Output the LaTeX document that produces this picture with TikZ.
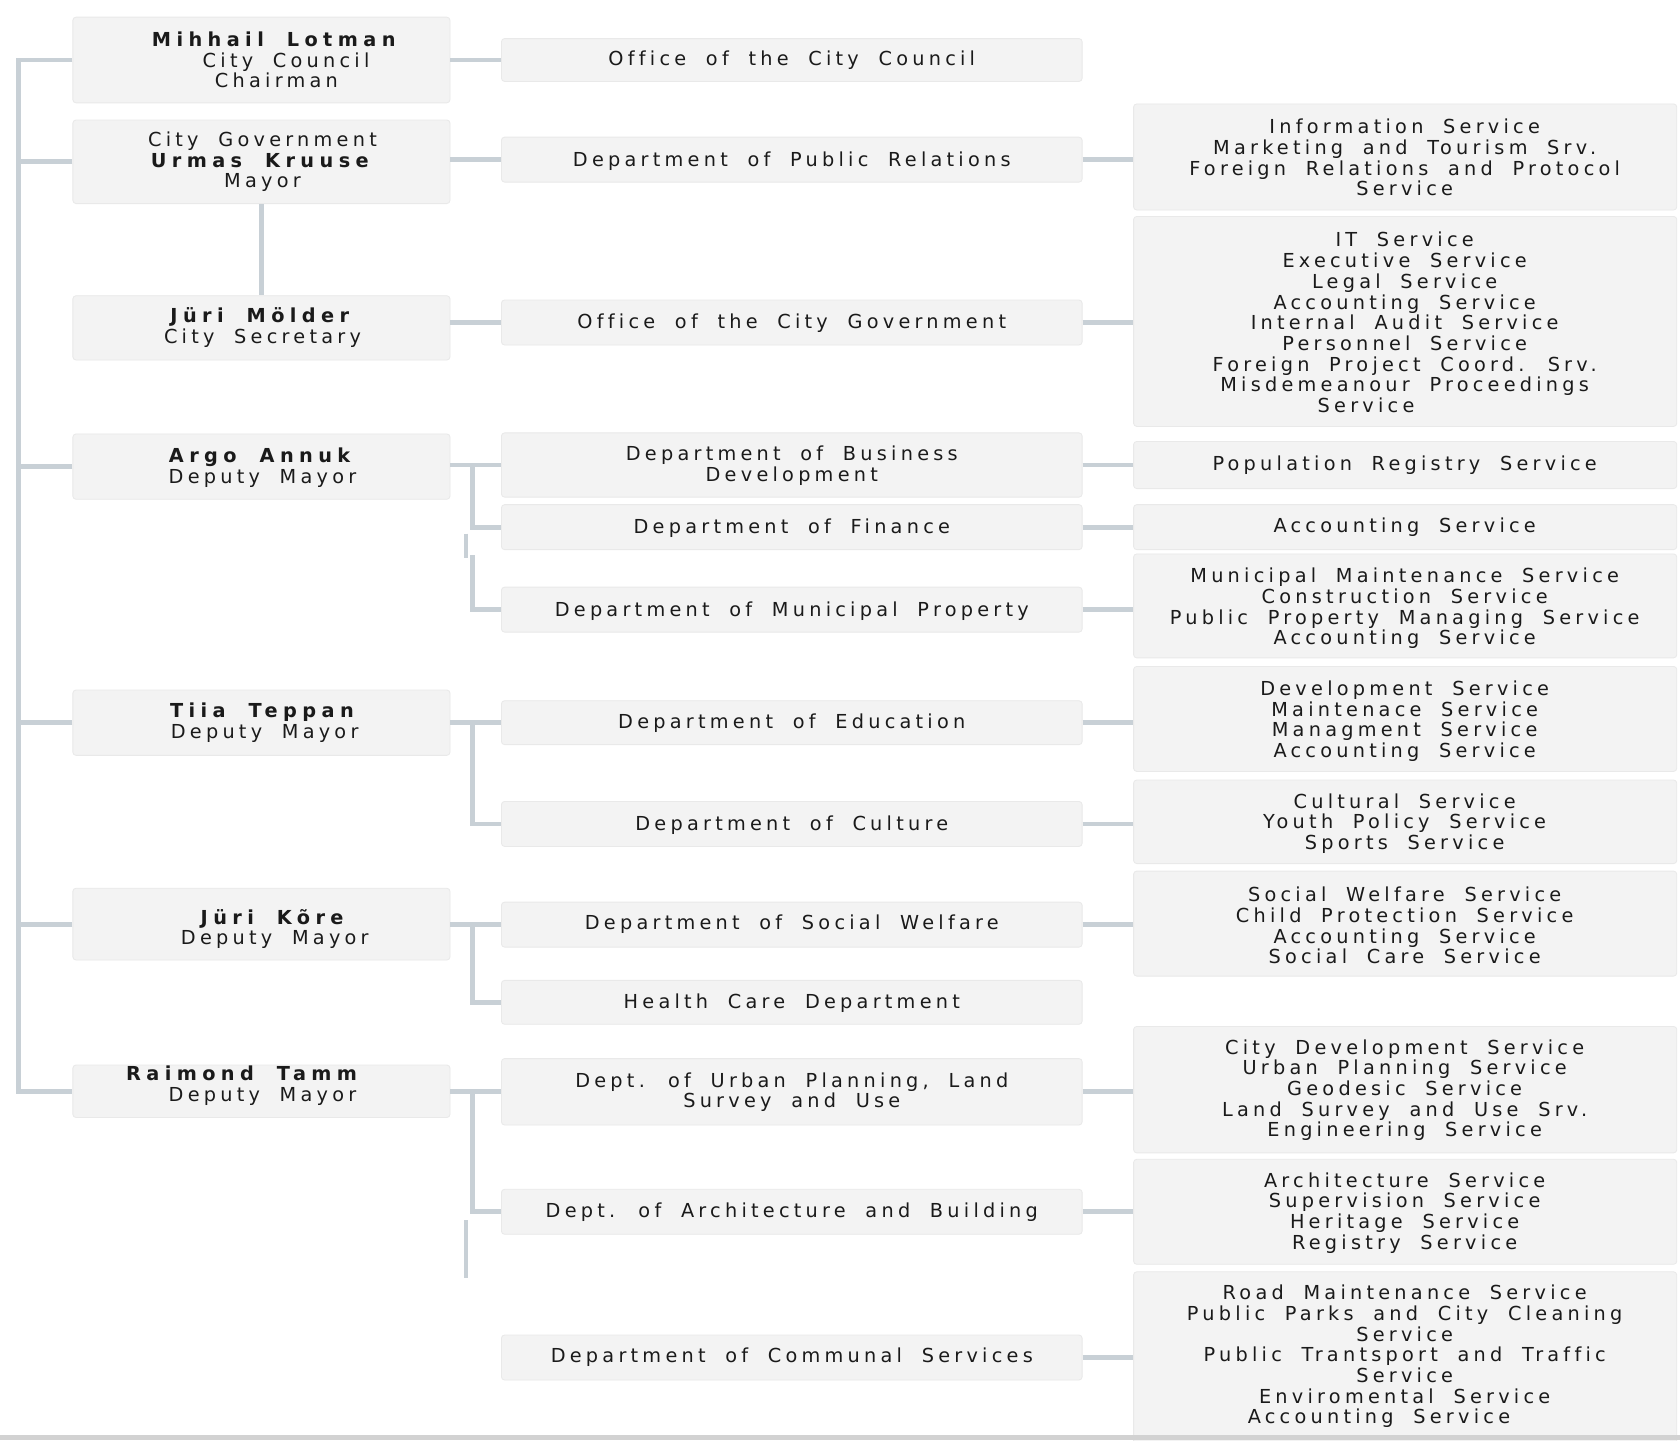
\documentclass[tikz,border=0pt]{standalone}
\usepackage{fontspec}
\setmainfont{DejaVu Sans}[LetterSpace=22,WordSpace=1.9,Ligatures=NoCommon,BoldFeatures={LetterSpace=28}]
\newcommand\fs{\fontsize{18}{19.3}\selectfont}
\definecolor{linec}{HTML}{C8D0D6}
\definecolor{boxc}{HTML}{F3F3F3}
\definecolor{boxe}{HTML}{E9E9E9}
\definecolor{textc}{HTML}{1A1A1A}
\definecolor{bandc}{HTML}{D2D2D2}
\tikzset{
  conn/.style={draw=linec, line width=4.5pt},
  anybox/.style={fill=boxc, draw=boxe, line width=0.8pt, rounded corners=3pt, inner sep=0pt},
  lbox/.style={anybox, minimum width=352pt},
  mbox/.style={anybox, minimum width=542pt},
  rbox/.style={anybox, minimum width=507pt},
  txt/.style={inner sep=0pt, align=center, font=\fs, text=textc},
}
\begin{document}
\begin{tikzpicture}[x=1pt,y=-1pt]
\fill[white] (0,0) rectangle (1568,1344);
\useasboundingbox (0,0) rectangle (1568,1344);

% left column
\node[lbox, minimum height=80pt] (L1) at (244,56) {};
\node[txt] (tL1) at (258,56) {\textbf{Mihhail Lotman}\\\hspace*{18pt}City Council\\Chairman};
\node[lbox, minimum height=78pt] (L2) at (244,151) {};
\node[txt] (tL2) at (245,151) {City Government\\\textbf{Urmas Kruuse}\\Mayor};
\node[lbox, minimum height=60pt] (L3) at (244,306) {};
\node[txt] (tL3) at (245,306) {\textbf{Jüri Mölder}\\City Secretary};
\node[lbox, minimum height=61pt] (L4) at (244,435.5) {};
\node[txt] (tL4) at (245,436.5) {\textbf{Argo Annuk}\\Deputy Mayor};
\node[lbox, minimum height=61pt] (L5) at (244,674.5) {};
\node[txt] (tL5) at (247,674.5) {\textbf{Tiia Teppan}\\Deputy Mayor};
\node[lbox, minimum height=67pt] (L6) at (244,862.5) {};
\node[txt] (tL6) at (256.5,867) {\textbf{Jüri Kõre}\\Deputy Mayor};
\node[lbox, minimum height=49pt] (L7) at (244,1018.5) {};
\node[txt] (tL7) at (240,1013.5) {\textbf{Raimond Tamm}\hspace*{24pt}\\\hspace*{10pt}Deputy Mayor};

% middle column
\node[mbox, minimum height=40pt] (M1) at (739,56) {};
\node[txt] at (739,56) {Office of the City Council};
\node[mbox, minimum height=42pt] (M2) at (739,149) {};
\node[txt] at (739,150) {Department of Public Relations};
\node[mbox, minimum height=42pt] (M3) at (739,301) {};
\node[txt] at (739,302) {Office of the City Government};
\node[mbox, minimum height=60pt] (M4) at (739,434) {};
\node[txt] at (739,434.5) {Department of Business\\Development};
\node[mbox, minimum height=42pt] (M5) at (739,492) {};
\node[txt] at (739,493) {Department of Finance};
\node[mbox, minimum height=42pt] (M6) at (739,569) {};
\node[txt] at (739,570) {Department of Municipal Property};
\node[mbox, minimum height=41pt] (M7) at (739,674.5) {};
\node[txt] at (739,675) {Department of Education};
\node[mbox, minimum height=42pt] (M8) at (739,769) {};
\node[txt] at (739,770) {Department of Culture};
\node[mbox, minimum height=42pt] (M9) at (739,863) {};
\node[txt] at (739,863) {Department of Social Welfare};
\node[mbox, minimum height=41pt] (M10) at (739,935.5) {};
\node[txt] at (739,936) {Health Care Department};
\node[mbox, minimum height=62pt] (M11) at (739,1019) {};
\node[txt] at (739,1019.5) {Dept. of Urban Planning, Land\\Survey and Use};
\node[mbox, minimum height=42pt] (M12) at (739,1131) {};
\node[txt] at (739,1131) {Dept. of Architecture and Building};
\node[mbox, minimum height=42pt] (M13) at (739,1267) {};
\node[txt] at (739,1267) {Department of Communal Services};

% right column
\node[rbox, minimum height=99pt] (R2) at (1311.5,146.5) {};
\node[txt] at (1311,147) {Information Service\\Marketing and Tourism Srv.\\Foreign Relations and Protocol\\Service};
\node[rbox, minimum height=196pt] (R3) at (1311.5,300) {};
\node[txt] at (1311,301) {IT Service\\Executive Service\\Legal Service\\Accounting Service\\Internal Audit Service\\Personnel Service\\Foreign Project Coord. Srv.\\Misdemeanour Proceedings\hspace*{22pt}\\Service\hspace*{72pt}};
\node[rbox, minimum height=44pt] (R4) at (1311.5,434) {};
\node[txt] at (1311,434) {Population Registry Service};
\node[rbox, minimum height=42pt] (R5) at (1311.5,492) {};
\node[txt] at (1311,492) {Accounting Service};
\node[rbox, minimum height=97pt] (R6) at (1311.5,565.5) {};
\node[txt] at (1311,568) {Municipal Maintenance Service\\Construction Service\\Public Property Managing Service\\Accounting Service};
\node[rbox, minimum height=98pt] (R7) at (1311.5,671) {};
\node[txt] at (1311,673) {Development Service\\Maintenace Service\\Managment Service\\Accounting Service};
\node[rbox, minimum height=78pt] (R8) at (1311.5,767) {};
\node[txt] at (1311,768.5) {Cultural Service\\Youth Policy Service\\Sports Service};
\node[rbox, minimum height=98pt] (R9) at (1311.5,862) {};
\node[txt] at (1311,864) {Social Welfare Service\\Child Protection Service\\Accounting Service\\Social Care Service};
\node[rbox, minimum height=118pt] (R11) at (1311.5,1017) {};
\node[txt] at (1311,1017.5) {City Development Service\\Urban Planning Service\\Geodesic Service\\Land Survey and Use Srv.\\Engineering Service};
\node[rbox, minimum height=98pt] (R12) at (1311.5,1131) {};
\node[txt] at (1311,1132) {Architecture Service\\Supervision Service\\Heritage Service\\Registry Service};
\node[rbox, minimum height=163pt] (R13) at (1311.5,1268.5) {};
\node[txt] at (1311,1266) {Road Maintenance Service\\Public Parks and City Cleaning\\Service\\Public Trantsport and Traffic\\Service\hspace*{48pt}\\Enviromental Service\\Accounting Service\hspace*{48pt}};

% trunk
\coordinate (T) at (17,0);
\coordinate (B) at (441,0);
\draw[conn] (L1.west) -| (T |- L7.west) -- (L7.west);
\foreach \n in {L2,L4,L5,L6} \draw[conn] (\n.west) -- (T |- \n.west);
\draw[conn] (L2.south) -- (L3.north);

% left to middle
\draw[conn] (L1.east) -- (M1.west);
\draw[conn] (L2.east |- M2.west) -- (M2.west);
\draw[conn] (L3.east |- M3.west) -- (M3.west);
\draw[conn] (L4.east |- M4.west) -- (M4.west);
\draw[conn] (B |- M4.west) |- (M5.west);
\coordinate (g1) at (435,498);
\coordinate (g2) at (435,521);
\coordinate (g3) at (441,518);
\draw[conn] (g1) -- (g2);
\draw[conn] (g3) |- (M6.west);
\draw[conn] (L5.east |- M7.west) -- (M7.west);
\draw[conn] (B |- M7.west) |- (M8.west);
\draw[conn] (L6.east |- M9.west) -- (M9.west);
\draw[conn] (B |- M9.west) |- (M10.west);
\draw[conn] (L7.east |- M11.west) -- (M11.west);
\draw[conn] (B |- M11.west) |- (M12.west);
\coordinate (g4) at (435,1139);
\coordinate (g5) at (435,1193);
\draw[conn] (g4) -- (g5);

% middle to right
\foreach \m/\r in {M2/R2,M3/R3,M4/R4,M5/R5,M6/R6,M7/R7,M8/R8,M9/R9,M11/R11,M12/R12,M13/R13}
  \draw[conn] (\m.east) -- (\r.west |- \m.east);

\fill[bandc] (0,1339) rectangle (1568,1344);
\end{tikzpicture}
\end{document}
